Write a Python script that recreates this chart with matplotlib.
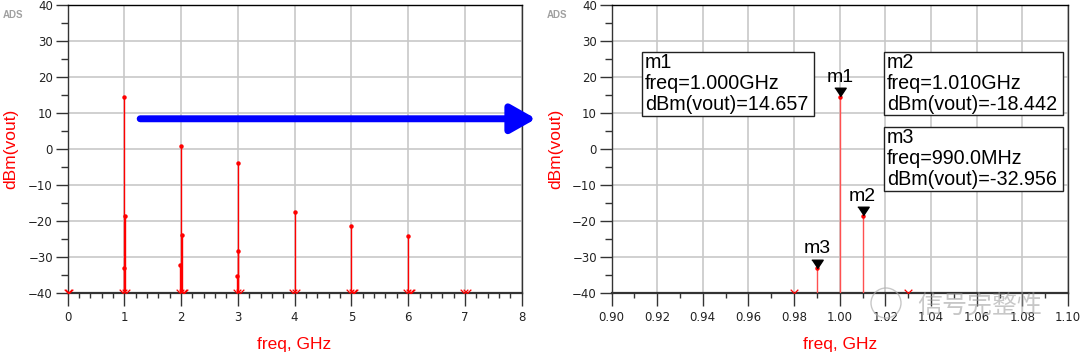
import matplotlib
matplotlib.use('Agg')
import matplotlib.pyplot as plt
import matplotlib.transforms as mtransforms
from matplotlib.path import Path
from matplotlib.patches import Rectangle, Ellipse
from matplotlib.ticker import MultipleLocator, FormatStrFormatter

plt.rcParams['font.family'] = ['Liberation Sans', 'DejaVu Sans']

# spectrum, full span (GHz, dBm)
left_freq = [0.99, 1.00, 1.01, 1.99, 2.00, 2.01, 2.99, 3.00, 3.01, 4.00, 5.00, 6.00]
left_dbm = [-32.956, 14.657, -18.442, -32.0, 0.8, -23.8, -35.3, -3.8, -28.2, -17.3, -21.2, -24.0]
# tones below the -40 dBm floor
left_floor_freq = [0.00, 0.03, 0.98, 1.03, 1.98, 2.03, 2.05, 2.98, 3.03, 3.98, 4.03,
                   4.98, 5.03, 5.05, 5.98, 6.03, 6.05, 6.98, 7.03]

# zoomed span around 1 GHz
zoom_freq = [0.99, 1.00, 1.01]
zoom_dbm = [-32.956, 14.657, -18.442]
zoom_floor_freq = [0.98, 1.03]

marker_names = ['m1', 'm2', 'm3']
marker_freq = [1.00, 1.01, 0.99]
marker_dbm = [14.657, -18.442, -32.956]
marker_lines = [['m1', 'freq=1.000GHz', 'dBm(vout)=14.657'],
                ['m2', 'freq=1.010GHz', 'dBm(vout)=-18.442'],
                ['m3', 'freq=990.0MHz', 'dBm(vout)=-32.956']]
# readout boxes (axes fraction: x, y bottom, width, height)
box_rects = [(0.0675, 0.617, 0.376, 0.222),
             (0.5976, 0.619, 0.3915, 0.220),
             (0.5976, 0.356, 0.3915, 0.222)]

fig = plt.figure(figsize=(10.8, 3.55), dpi=100)
ax1 = fig.add_axes([67.5 / 1080, 1 - 293.3 / 355, 454.2 / 1080, 288 / 355])
ax2 = fig.add_axes([611.5 / 1080, 1 - 293.3 / 355, 456.5 / 1080, 288 / 355])

vmark = Path([(-1, 1), (0, 0), (1, 1)], [Path.MOVETO, Path.LINETO, Path.LINETO])
tri = [(-1, 0.75), (1, 0.75), (0, -0.75)]


def style_axes(ax):
    ax.set_ylim(-40, 40)
    ax.yaxis.set_major_locator(MultipleLocator(10))
    ax.yaxis.set_minor_locator(MultipleLocator(5))
    ax.grid(True, which='major', color='#c8c8c8', lw=1.2)
    ax.set_axisbelow(True)
    ax.tick_params(which='both', direction='out', width=1, color='#333333',
                   labelcolor='#222222', labelsize=8.5, labelfontfamily='DejaVu Sans')
    ax.tick_params(axis='x', which='major', length=9, pad=4)
    ax.tick_params(axis='x', which='minor', length=3.8)
    ax.tick_params(axis='y', which='major', length=8.5, pad=2)
    ax.tick_params(axis='y', which='minor', length=5)
    for s in ax.spines.values():
        s.set_color('#333333')
        s.set_linewidth(1)
    ax.spines['top'].set_color('black')
    ax.spines['bottom'].set_linewidth(1.6)


def draw_spectrum(ax, freq, dbm, floor_freq, color):
    ax.vlines(freq, -40, dbm, color=color, lw=1, zorder=3)
    ax.plot(freq, dbm, 'o', ms=2.2, color='red', zorder=4)
    ax.plot(floor_freq, [-40] * len(floor_freq), ls='none', marker=vmark, ms=5.5,
            mew=0.9, mfc='none', color='red', clip_on=False, zorder=4)


# left: full span
style_axes(ax1)
ax1.set_xlim(0, 8)
ax1.xaxis.set_major_locator(MultipleLocator(1))
ax1.xaxis.set_minor_locator(MultipleLocator(0.2))
draw_spectrum(ax1, left_freq, left_dbm, left_floor_freq, 'red')

# right: zoom around the carrier
style_axes(ax2)
ax2.set_xlim(0.9, 1.1)
ax2.xaxis.set_major_locator(MultipleLocator(0.02))
ax2.xaxis.set_minor_locator(MultipleLocator(0.01))
ax2.xaxis.set_major_formatter(FormatStrFormatter('%.2f'))
draw_spectrum(ax2, zoom_freq, zoom_dbm, zoom_floor_freq, '#ff5050')

# markers: triangle tip on the data point
tri_tr = mtransforms.offset_copy(ax2.transData, fig=fig, y=4.3, units='dots')
for name, f, v in zip(marker_names, marker_freq, marker_dbm):
    ax2.plot([f], [v], marker=tri, ms=8.2, color='black', transform=tri_tr,
             clip_on=False, zorder=5)
    ax2.annotate(name, (f, v), xytext=(0, 10.7), textcoords='offset points',
                 ha='center', va='baseline', fontsize=14, color='black')

# marker readout boxes
for lines, (bx, by, bw, bh) in zip(marker_lines, box_rects):
    ax2.add_patch(Rectangle((bx, by), bw, bh, transform=ax2.transAxes, fc='white',
                            ec='#222222', lw=1, zorder=6))
    top = mtransforms.offset_copy(ax2.transAxes, fig=fig, x=2.7, y=0, units='dots')
    for i, line in enumerate(lines):
        ax2.text(bx, by + bh - (16.5 + 21 * i) / 288, line, transform=top,
                 ha='left', va='baseline', fontsize=14.2, color='black', zorder=7)

# labels
for x_lab, x_y in [(294.6 / 1080, 11 / 1080), (839.8 / 1080, 556 / 1080)]:
    fig.text(x_lab, 1 - 345 / 355, 'freq, GHz', ha='center', va='center',
             color='red', fontsize=12.5)
    fig.text(x_y, 1 - 149 / 355, 'dBm(vout)', ha='center', va='center',
             rotation=90, color='red', fontsize=12.5)
fig.text(13 / 1080, 1 - 15 / 355, 'ADS', ha='center', va='center',
         color='#a0a0a0', fontsize=7, fontweight='bold')
fig.text(557 / 1080, 1 - 15 / 355, 'ADS', ha='center', va='center',
         color='#a0a0a0', fontsize=7, fontweight='bold')

# blue arrow between the panels
ax1.annotate('', xy=(1.0315, 0.606), xytext=(0.160, 0.606),
             xycoords='axes fraction', textcoords='axes fraction',
             annotation_clip=False,
             arrowprops=dict(arrowstyle='-|>,head_length=0.76,head_width=0.43',
                             mutation_scale=20, lw=5, color='#0000ff',
                             shrinkA=0, shrinkB=0))

# watermark
fig.text(980 / 1080, 1 - 306 / 355, '信号完整性', ha='center', va='center',
         fontsize=18, color='#9a9a9a', alpha=0.55,
         family=['Noto Sans CJK SC', 'DejaVu Sans'])
fig.add_artist(Ellipse((886 / 1080, 1 - 303 / 355), 30 / 1080, 30 / 355,
                       transform=fig.transFigure, fill=False, ec='#b0b0b0',
                       lw=1, alpha=0.7))

fig.savefig('out.png', dpi=100)
